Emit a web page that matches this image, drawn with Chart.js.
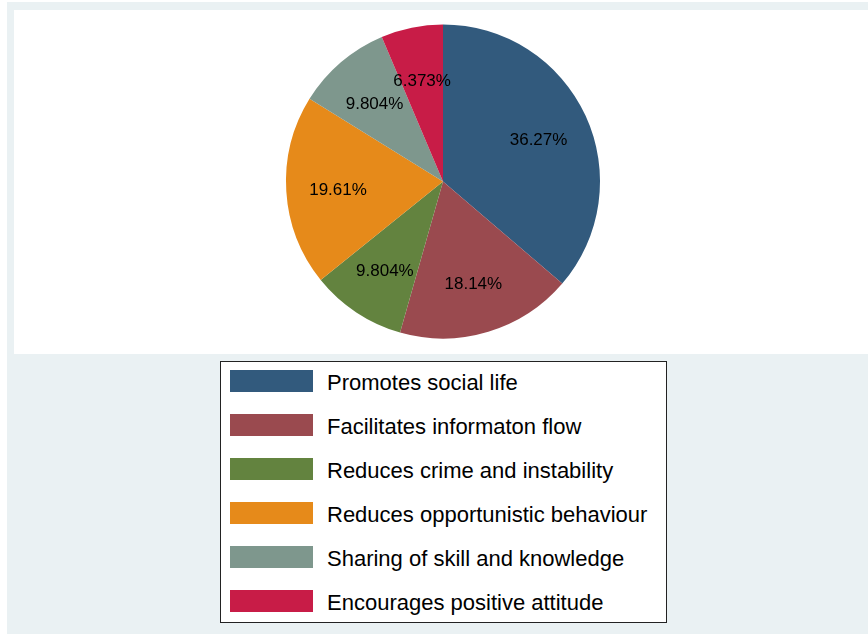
<!DOCTYPE html>
<html>
<head>
<meta charset="utf-8">
<script src="https://cdn.jsdelivr.net/npm/chart.js@4"></script>
<style>
  html, body { margin: 0; padding: 0; background: #fff; }
  body { width: 868px; height: 634px; position: relative; overflow: hidden;
         font-family: "Liberation Sans", Arial, sans-serif; }
  #outer { position: absolute; left: 7px; top: 2px; right: 0; bottom: 0; background: #eaf1f3; }
  #plot { position: absolute; left: 14px; top: 10px; right: 0; height: 344px; background: #fff; }
  #pie { position: absolute; left: 0; top: 0; }
  #legend { position: absolute; left: 220px; top: 361px; width: 445px; height: 260px;
            background: #fff; border: 1px solid #222; }
  .row { position: absolute; left: 9px; height: 22px; display: flex; align-items: center; }
  .sw { width: 83px; height: 22px; margin-right: 14px; }
  .lb { font-size: 22px; color: #000; white-space: nowrap; line-height: 22px; position: relative; top: 2px; }
</style>
</head>
<body>
<div id="outer"></div>
<div id="plot"></div>
<canvas id="pie" width="868" height="634"></canvas>
<div id="legend"></div>
<script>
const labels = ['Promotes social life', 'Facilitates informaton flow', 'Reduces crime and instability',
                'Reduces opportunistic behaviour', 'Sharing of skill and knowledge', 'Encourages positive attitude'];
const shares = [36.27, 18.14, 9.804, 19.61, 9.804, 6.373];
const colors = ['#325a7d', '#9a4a4f', '#63833f', '#e68a1a', '#7e978d', '#c81c47'];

// percentage labels inside the slices
const sliceLabels = {
  id: 'sliceLabels',
  afterDatasetsDraw(chart) {
    const ctx = chart.ctx;
    const meta = chart.getDatasetMeta(0);
    ctx.save();
    ctx.font = '17px "Liberation Sans", Arial, sans-serif';
    ctx.fillStyle = '#000';
    ctx.textAlign = 'center';
    ctx.textBaseline = 'middle';
    meta.data.forEach((arc, i) => {
      const p = arc.getProps(['x', 'y', 'startAngle', 'endAngle', 'outerRadius'], true);
      const mid = (p.startAngle + p.endAngle) / 2;
      const r = p.outerRadius * 0.67;
      const txt = shares[i].toPrecision(4) + '%';
      ctx.fillText(txt, p.x + Math.cos(mid) * r, p.y + Math.sin(mid) * r + 2.5);
    });
    ctx.restore();
  }
};

const chart = new Chart(document.getElementById('pie'), {
  type: 'pie',
  data: {
    labels: labels,
    datasets: [{
      data: shares,
      backgroundColor: colors,
      borderWidth: 0
    }]
  },
  options: {
    responsive: false,
    animation: false,
    layout: { padding: { left: 286, right: 268, top: 24.5, bottom: 295.5 } },
    plugins: {
      legend: { display: false },
      tooltip: { enabled: false }
    }
  },
  plugins: [sliceLabels]
});

// legend box built from the same arrays
const leg = document.getElementById('legend');
labels.forEach((name, i) => {
  const row = document.createElement('div');
  row.className = 'row';
  row.style.top = (8 + i * 44) + 'px';
  row.innerHTML = '<div class="sw" style="background:' + colors[i] + '"></div><span class="lb">' + name + '</span>';
  leg.appendChild(row);
});
</script>
</body>
</html>
